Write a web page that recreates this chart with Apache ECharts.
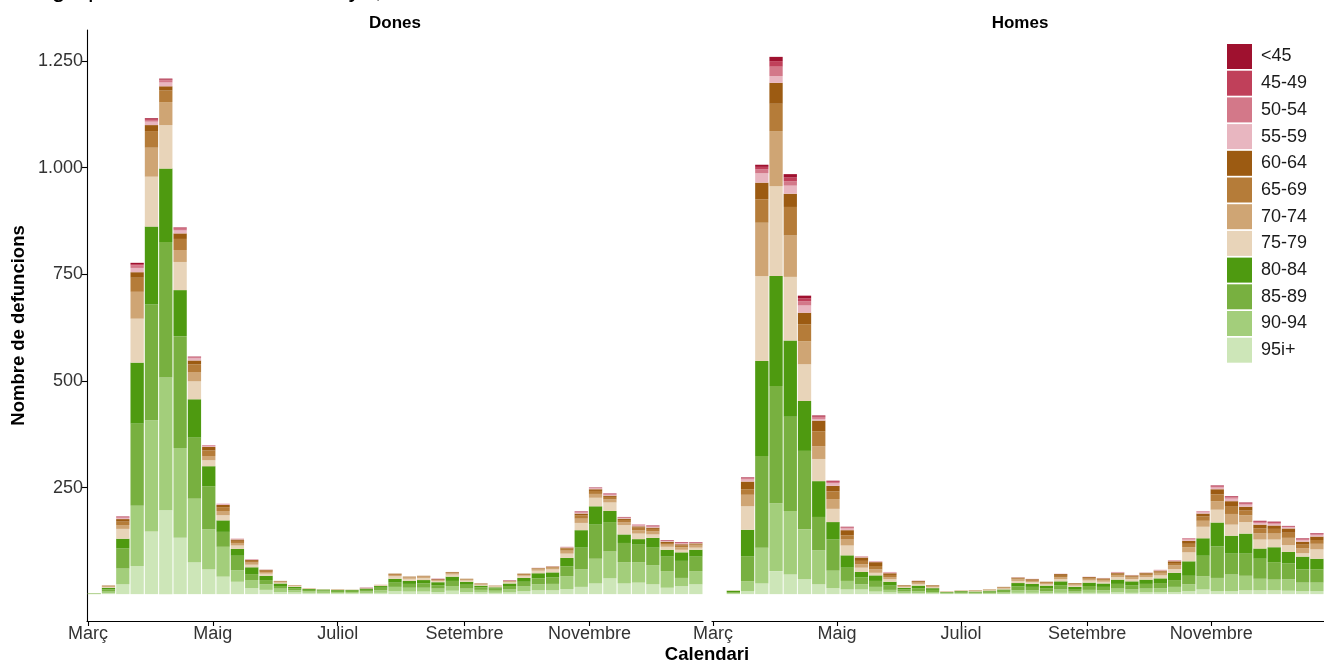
<!DOCTYPE html>
<html><head><meta charset="utf-8">
<script src="https://cdn.jsdelivr.net/npm/echarts@6/dist/echarts.min.js"></script>
<style>html,body{margin:0;padding:0;background:#fff}#c{width:1324px;height:664px}</style>
</head><body><div id="c"></div>
<script>
// ---- DATA ----
const weekStarts = ['2020-03-01','2020-03-08','2020-03-15','2020-03-22','2020-03-29','2020-04-05','2020-04-12','2020-04-19','2020-04-26','2020-05-03','2020-05-10','2020-05-17','2020-05-24','2020-05-31','2020-06-07','2020-06-14','2020-06-21','2020-06-28','2020-07-05','2020-07-12','2020-07-19','2020-07-26','2020-08-02','2020-08-09','2020-08-16','2020-08-23','2020-08-30','2020-09-06','2020-09-13','2020-09-20','2020-09-27','2020-10-04','2020-10-11','2020-10-18','2020-10-25','2020-11-01','2020-11-08','2020-11-15','2020-11-22','2020-11-29','2020-12-06','2020-12-13','2020-12-20'];
const monthTicks = ['2020-03-01','2020-05-01','2020-07-01','2020-09-01','2020-11-01'];
const monthLabels = ['Març','Maig','Juliol','Setembre','Novembre'];
const yTicks = [250,500,750,1000,1250];
const ageGroups = ['95i+','90-94','85-89','80-84','75-79','70-74','65-69','60-64','55-59','50-54','45-49','<45']; // bottom -> top
const legendOrder = ['<45','45-49','50-54','55-59','60-64','65-69','70-74','75-79','80-84','85-89','90-94','95i+'];
const facetNames = ['Dones','Homes'];

// Dones
const d95 = [0,2,23,66,147,197,132,75,58,41,29,14,10,5,4,3,2,2,2,2,3,7,6,6,5,8,5,4,3,4,7,9,9,12,17,25,37,25,27,23,15,19,23];
const d90 = [1,4,37,141,261,311,211,149,94,70,27,19,13,8,5,4,4,3,3,4,6,10,9,9,8,11,8,6,5,7,11,14,15,30,41,58,63,50,48,45,39,19,31];
const d85 = [1,5,47,193,271,318,262,143,101,35,34,14,10,6,5,3,3,3,3,4,6,10,9,10,8,12,9,6,5,8,11,14,15,23,51,80,69,45,41,41,34,40,34];
const d80 = [0,4,23,143,183,172,108,90,47,27,16,16,10,6,3,2,2,2,2,3,4,9,7,8,7,10,7,4,3,6,9,12,12,20,41,43,26,20,13,23,16,20,16];
const d75 = [0,2,23,103,117,102,66,42,14,12,8,6,5,2,2,1,1,1,1,1,2,6,5,5,3,5,3,2,2,3,5,6,7,10,17,20,20,22,13,8,7,6,5];
const d70 = [0,1,9,63,68,54,28,22,10,10,6,5,4,2,1,1,0,1,0,0,1,3,3,3,2,3,2,1,1,2,2,3,4,7,10,9,7,7,8,7,5,6,5];
const d65 = [0,1,8,33,39,27,26,18,13,9,5,4,3,1,1,0,0,0,0,0,0,2,1,1,1,2,1,1,1,1,2,2,2,5,8,7,6,5,6,6,4,4,3];
const d60 = [0,1,6,13,14,10,13,9,8,5,3,2,2,1,0,0,0,0,0,0,0,1,1,1,1,1,1,1,0,0,1,1,1,2,4,4,3,3,3,3,3,3,2];
const d55 = [0,0,3,10,8,9,7,5,2,2,1,1,1,0,0,0,0,0,0,0,0,0,0,0,0,0,0,0,0,0,0,1,1,1,2,2,2,2,2,2,2,2,1];
const d50 = [0,0,1,6,4,5,4,2,1,1,1,1,0,0,0,0,0,0,0,0,0,0,0,0,0,0,0,0,0,0,0,0,0,1,1,1,1,1,1,1,1,1,1];
const d45 = [0,0,1,3,2,2,2,1,1,0,0,0,0,0,0,0,0,0,0,0,0,0,0,0,0,0,0,0,0,0,0,0,0,0,1,0,1,0,1,1,0,1,0];
const dLt45 = [0,0,1,3,2,2,1,1,0,0,0,0,0,0,0,0,0,0,0,1,0,0,0,0,1,0,0,0,0,1,0,0,0,0,1,1,1,1,0,1,1,1,1];

// Homes
const h95 = [0,1,7,25,54,46,35,23,14,11,11,6,4,2,2,2,1,1,1,1,1,3,3,2,3,2,3,3,4,3,4,4,5,7,11,7,7,9,9,9,8,7,7];
const h90 = [0,2,23,84,159,149,117,80,41,20,12,11,6,4,5,3,1,2,1,2,3,6,6,5,8,4,7,6,9,8,9,10,12,16,31,31,39,34,27,25,27,20,20];
const h85 = [0,2,59,215,275,221,184,78,73,31,16,14,10,5,7,5,2,2,2,3,4,9,8,7,10,6,9,8,11,10,11,12,16,20,48,74,49,52,47,41,37,31,31];
const h80 = [0,3,62,223,258,179,117,84,41,29,13,13,9,4,6,4,1,2,2,2,3,8,7,6,9,5,8,8,10,9,10,11,17,34,41,56,42,47,24,35,27,30,25];
const h75 = [0,1,55,199,211,149,86,52,31,23,10,6,6,2,4,2,1,1,1,1,2,5,4,3,5,3,5,4,6,5,6,7,9,21,27,30,26,27,21,18,16,8,22];
const h70 = [0,0,27,125,129,97,54,30,23,14,8,8,5,2,3,2,1,1,1,1,2,4,3,3,5,3,4,4,5,4,5,6,9,12,14,20,25,16,15,14,17,12,13];
const h65 = [0,0,13,55,64,67,40,35,18,10,8,8,5,1,2,2,0,0,1,1,1,2,2,2,3,2,2,2,3,3,3,3,5,8,10,16,17,11,11,11,12,8,9];
const h60 = [0,0,18,39,49,31,27,25,13,12,8,9,4,1,2,1,0,0,0,0,1,2,2,1,4,1,2,2,2,2,2,2,4,7,7,12,13,9,9,8,10,7,8];
const h55 = [0,0,5,22,16,19,17,4,6,4,2,1,2,0,1,0,0,0,0,0,0,1,1,0,1,0,1,1,1,1,1,1,2,3,3,4,6,5,4,4,3,4,4];
const h50 = [0,0,3,9,22,10,10,4,3,2,1,1,1,0,0,0,0,0,0,0,0,0,0,0,0,0,0,0,1,0,0,1,1,2,1,2,3,2,2,2,1,2,2];
const h45 = [0,0,1,6,13,9,7,2,2,1,0,0,0,0,0,0,0,0,0,0,0,0,0,0,0,0,0,0,0,0,0,0,0,1,1,2,2,2,2,2,1,1,1];
const hLt45 = [0,0,1,5,10,8,6,2,1,1,0,0,0,0,0,0,0,0,0,0,0,0,0,0,0,0,0,0,0,0,0,0,0,0,0,1,1,1,1,1,1,1,1];

// ---- STYLE ----
const colors = ['#cde6b8','#a3ce7b','#78b040','#4e9a10','#e8d4b9','#cfa574','#b57c39','#9c5b12','#e8b6c0','#d37889','#c0405a','#9f112f'];
const FONT = '"Liberation Sans", Arial, Helvetica, sans-serif';

const donesSeries = [d95,d90,d85,d80,d75,d70,d65,d60,d55,d50,d45,dLt45];
const homesSeries = [h95,h90,h85,h80,h75,h70,h65,h60,h55,h50,h45,hLt45];

const X0 = Date.UTC(2020,2,1);
const off = s => { const p = s.split('-').map(Number); return (Date.UTC(p[0],p[1]-1,p[2]) - X0) / 86400000; };
const tickVals = monthTicks.map(off);

// category axis carrying the weekly bars (hidden), one per panel
function mkXCat(gi){
  return {
    type:'category', gridIndex:gi, data:weekStarts, boundaryGap:true, position:'top',
    axisLine:{show:false}, axisTick:{show:false}, axisLabel:{show:false}, splitLine:{show:false}
  };
}
// day-scale axis carrying the month ticks, one per panel (43 weeks = 301 days)
function mkXDay(gi){
  return {
    type:'value', gridIndex:gi, min:-0.5, max:300.5, position:'bottom',
    axisLine:{show:true, onZero:false, lineStyle:{color:'#000', width:1.1}},
    axisTick:{show:true, length:5, customValues:tickVals, lineStyle:{color:'#000', width:1.1}},
    axisLabel:{show:true, customValues:tickVals, margin:4, fontSize:18, color:'#333', fontFamily:FONT,
      formatter: v => { const i = tickVals.indexOf(Math.round(v)); return i >= 0 ? monthLabels[i] : ''; }},
    splitLine:{show:false}
  };
}
function fmtNum(v){ return v >= 1000 ? Math.floor(v/1000) + '.' + String(v%1000).padStart(3,'0') : String(v); }
function mkY(gi, show){
  return {
    type:'value', gridIndex:gi, min:-63, max:1323,
    axisLine:{show:show, onZero:false, lineStyle:{color:'#000', width:1.1}},
    axisTick:{show:show, length:5, customValues:yTicks, lineStyle:{color:'#000', width:1.1}},
    axisLabel:{show:show, customValues:yTicks, margin:4, fontSize:18, color:'#333', fontFamily:FONT, formatter: fmtNum},
    splitLine:{show:false}
  };
}

const series = [];
[donesSeries, homesSeries].forEach((grp, gi) => {
  grp.forEach((arr, i) => {
    series.push({
      name: ageGroups[i], type:'bar', stack:'s'+gi, xAxisIndex:gi*2, yAxisIndex:gi,
      barWidth:13.3, itemStyle:{color:colors[i]},
      data: arr
    });
  });
});

function txt(x, y, text, font, rot){
  return {type:'text', x:x, y:y, rotation:rot||0, silent:true,
    style:{text:text, font:font, fill:'#000', align:'center', verticalAlign:'middle', textAlign:'center', textVerticalAlign:'middle'}};
}

const option = {
  animation:false,
  backgroundColor:'#fff',
  textStyle:{fontFamily:FONT},
  grid:[
    {left:87, right:621, top:30, bottom:43, containLabel:false},
    {left:712, right:-4, top:30, bottom:43, containLabel:false}
  ],
  xAxis:[mkXCat(0), mkXDay(0), mkXCat(1), mkXDay(1)],
  yAxis:[mkY(0,true), mkY(1,false)],
  legend:{
    data:legendOrder, orient:'vertical', left:1227, top:44, padding:0,
    itemWidth:25, itemHeight:25, itemGap:1.7, icon:'rect', selectedMode:false,
    textStyle:{fontSize:18, color:'#1a1a1a', fontFamily:FONT, padding:[0,0,0,4]}
  },
  graphic:[
    {type:'text', x:6, y:-10, silent:true, style:{text:"Per grup d'edat i sexe. Catalunya, 2020", font:'25px "Liberation Sans", Arial', fill:'#000', verticalAlign:'middle', textVerticalAlign:'middle'}},
    txt(395, 23.5, facetNames[0], 'bold 17px "Liberation Sans", Arial'),
    txt(1020, 23.5, facetNames[1], 'bold 17px "Liberation Sans", Arial'),
    txt(707, 655, 'Calendari', 'bold 18.5px "Liberation Sans", Arial'),
    txt(19, 325.5, 'Nombre de defuncions', 'bold 18.5px "Liberation Sans", Arial', Math.PI/2)
  ],
  series: series
};
const chart = echarts.init(document.getElementById('c'));
chart.setOption(option);
</script></body></html>
